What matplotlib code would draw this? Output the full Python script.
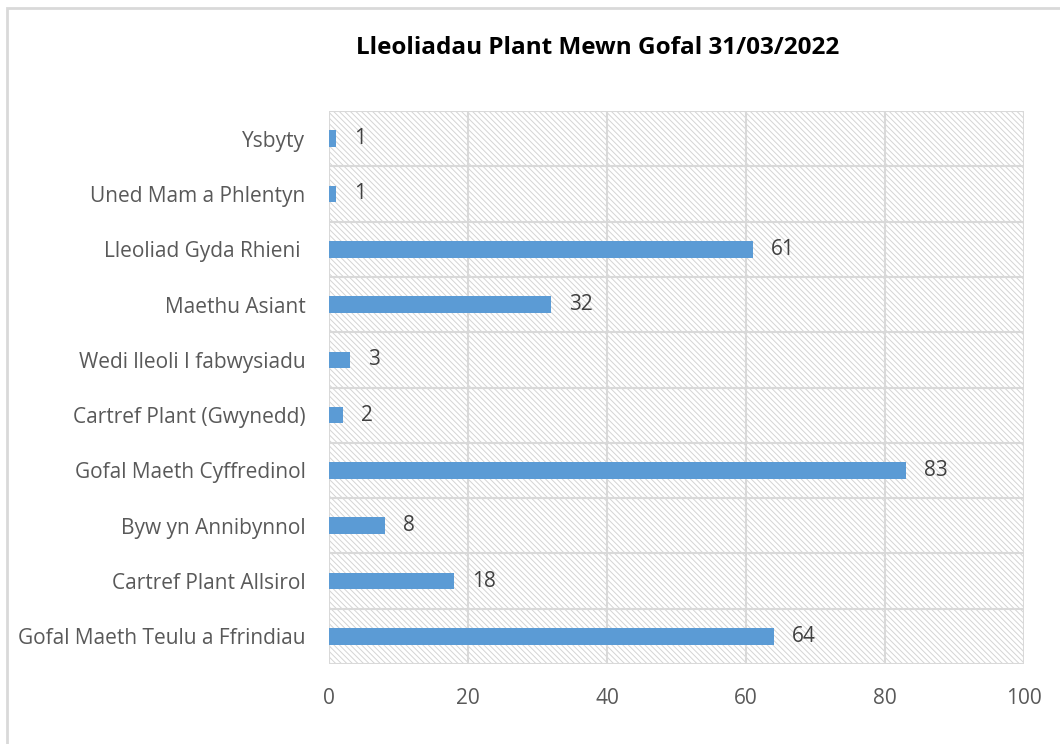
import matplotlib
matplotlib.use("Agg")
import matplotlib.pyplot as plt
from matplotlib.patches import Rectangle

categories = [
    "Gofal Maeth Teulu a Ffrindiau",
    "Cartref Plant Allsirol",
    "Byw yn Annibynnol",
    "Gofal Maeth Cyffredinol",
    "Cartref Plant (Gwynedd)",
    "Wedi lleoli I fabwysiadu",
    "Maethu Asiant",
    "Lleoliad Gyda Rhieni ",
    "Uned Mam a Phlentyn",
    "Ysbyty",
]
values = [64, 18, 8, 83, 2, 3, 32, 61, 1, 1]
xticks = [0, 20, 40, 60, 80, 100]
title = "Lleoliadau Plant Mewn Gofal 31/03/2022"

plt.rcParams['font.family'] = ['Open Sans', 'DejaVu Sans']
plt.rcParams['hatch.color'] = '#d4d4d4'
plt.rcParams['hatch.linewidth'] = 0.7

W, H = 1060, 744
fig = plt.figure(figsize=(W / 100, H / 100), dpi=100)

# outer chart frame
fig.patches.append(Rectangle((7 / W, -0.05), 1.2, (H - 8) / H + 0.05,
                             transform=fig.transFigure, fill=False,
                             edgecolor='#d9d9d9', linewidth=2))

ax = fig.add_axes([329 / W, 80 / H, (1024 - 329) / W, (664 - 111) / H])
ax.set_facecolor('white')
ax.add_patch(Rectangle((0, 0), 1, 1, transform=ax.transAxes, facecolor='white',
                       edgecolor='#d4d4d4', hatch='\\\\\\\\\\\\', linewidth=0, zorder=0))

y = list(range(len(categories)))
ax.barh(y, values, height=0.3, color='#5b9bd5', zorder=3)
for yi, v in zip(y, values):
    ax.text(v + 2.6, yi, str(v), va='center', ha='left', fontsize=15,
            color='#404040', zorder=4)

ax.set_xlim(0, 100)
ax.set_ylim(-0.5, len(categories) - 0.5)
ax.set_xticks(xticks)
ax.set_yticks(y)
ax.set_yticklabels(categories)
ax.tick_params(axis='both', length=0, labelsize=15, colors='#595959')
ax.tick_params(axis='x', pad=17)
ax.tick_params(axis='y', pad=17)

for b in [i - 0.5 for i in range(len(categories) + 1)]:
    ax.axhline(b, color='#d9d9d9', linewidth=1.5, zorder=1)
for t in xticks:
    ax.axvline(t, color='#d9d9d9', linewidth=1.5, zorder=1)
for s in ax.spines.values():
    s.set_visible(False)

fig.text((352 + 843) / 2 / W, 1 - 48 / H, title, ha='center', va='center',
         fontsize=17.5, fontweight='bold', color='#000000')

fig.savefig('out.png', dpi=100)
